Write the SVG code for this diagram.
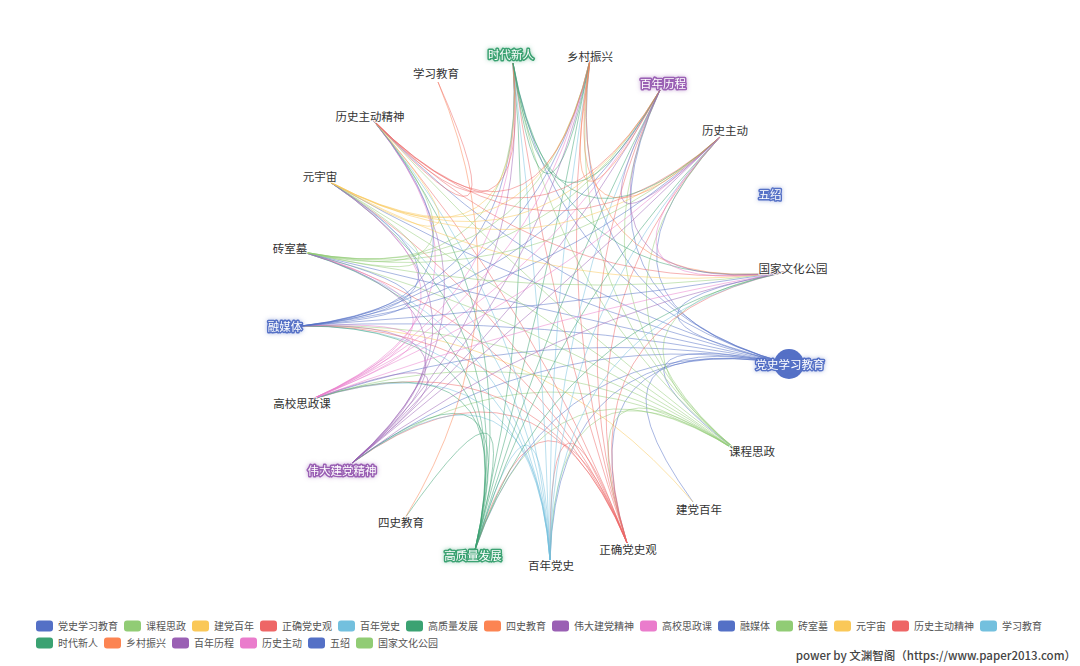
<svg xmlns="http://www.w3.org/2000/svg" width="1080" height="666" viewBox="0 0 1080 666">
<defs>
<style>
text{font-family:"Noto Sans CJK SC","Noto Sans",sans-serif}
#edges path{fill:none;stroke-width:1;stroke-opacity:0.5}
.lb{font-size:11.5px;fill:#333;stroke:#fff;stroke-width:2;stroke-opacity:0.8;paint-order:stroke;text-anchor:middle}
.hl{font-size:11.5px;fill:#fff;stroke-width:3;stroke-linejoin:round;paint-order:stroke;text-anchor:middle}
.lg{font-size:10px;fill:#555}
.wm{font-size:11.5px;fill:#444;text-anchor:end;font-weight:500}
</style>
<filter id="gB" x="-30%" y="-60%" width="160%" height="220%"><feDropShadow dx="0" dy="0" stdDeviation="2.2" flood-color="#5470c6" flood-opacity="0.5"/></filter>
<filter id="gG" x="-30%" y="-60%" width="160%" height="220%"><feDropShadow dx="0" dy="0" stdDeviation="2.2" flood-color="#3ba272" flood-opacity="0.5"/></filter>
<filter id="gP" x="-30%" y="-60%" width="160%" height="220%"><feDropShadow dx="0" dy="0" stdDeviation="2.2" flood-color="#9a60b4" flood-opacity="0.5"/></filter>
</defs>
<rect width="1080" height="666" fill="#fff"/>
<g id="edges">
<g stroke="#5470c6">
<path d="M789 364Q566 321 740 453"/><path d="M789 364Q564 323 693 502"/><path d="M789 364Q560 325 627 543"/><path d="M789 364Q557 326 550 560"/><path d="M789 364Q553 326 475 550"/><path d="M789 364Q547 321 352 463"/><path d="M789 364Q545 318 310 400"/><path d="M789 364Q544 314 301 326"/><path d="M789 364Q544 311 303 252"/><path d="M789 364Q546 307 330 182"/><path d="M789 364Q548 304 373 120"/><path d="M789 364Q555 301 513 63"/><path d="M789 364Q559 301 590 60"/><path d="M789 364Q562 303 660 90"/><path d="M789 364Q565 305 720 137"/><path d="M789 364Q568 312 785 272"/>
</g>
<g stroke="#91cc75">
<path d="M740 453Q558 330 627 543"/><path d="M740 453Q554 331 550 560"/><path d="M740 453Q550 330 475 550"/><path d="M740 453Q544 326 352 463"/><path d="M740 453Q542 323 310 400"/><path d="M740 453Q542 319 301 326"/><path d="M740 453Q542 315 303 252"/><path d="M740 453Q543 312 330 182"/><path d="M740 453Q545 309 373 120"/><path d="M740 453Q552 306 513 63"/><path d="M740 453Q556 306 590 60"/><path d="M740 453Q560 307 660 90"/><path d="M740 453Q563 309 720 137"/><path d="M740 453Q566 316 785 272"/>
</g>
<g stroke="#fac858">
<path d="M693 502Q539 321 301 326"/>
</g>
<g stroke="#ee6666">
<path d="M627 543Q548 335 550 560"/><path d="M627 543Q545 335 475 550"/><path d="M627 543Q539 330 352 463"/><path d="M627 543Q536 327 310 400"/><path d="M627 543Q536 323 301 326"/><path d="M627 543Q536 320 303 252"/><path d="M627 543Q537 316 330 182"/><path d="M627 543Q540 313 373 120"/><path d="M627 543Q547 310 513 63"/><path d="M627 543Q550 310 590 60"/><path d="M627 543Q554 312 660 90"/><path d="M627 543Q557 314 720 137"/><path d="M627 543Q560 321 785 272"/>
</g>
<g stroke="#73c0de">
<path d="M550 560Q541 335 475 550"/><path d="M550 560Q535 331 352 463"/><path d="M550 560Q533 328 310 400"/><path d="M550 560Q532 324 301 326"/><path d="M550 560Q532 321 303 252"/><path d="M550 560Q534 317 330 182"/><path d="M550 560Q536 314 373 120"/><path d="M550 560Q543 311 513 63"/><path d="M550 560Q547 311 590 60"/><path d="M550 560Q550 312 660 90"/><path d="M550 560Q553 315 720 137"/><path d="M550 560Q556 322 785 272"/>
</g>
<g stroke="#3ba272">
<path d="M475 550Q534 333 405 518"/><path d="M475 550Q531 331 352 463"/><path d="M475 550Q529 327 310 400"/><path d="M475 550Q528 324 301 326"/><path d="M475 550Q529 320 303 252"/><path d="M475 550Q530 317 330 182"/><path d="M475 550Q532 313 373 120"/><path d="M475 550Q539 311 513 63"/><path d="M475 550Q543 310 590 60"/><path d="M475 550Q546 312 660 90"/><path d="M475 550Q549 314 720 137"/><path d="M475 550Q553 321 785 272"/>
</g>
<g stroke="#fc8452">
<path d="M405 518Q532 310 438 82"/>
</g>
<g stroke="#9a60b4">
<path d="M352 463Q523 323 310 400"/><path d="M352 463Q522 319 301 326"/><path d="M352 463Q522 316 303 252"/><path d="M352 463Q524 312 330 182"/><path d="M352 463Q526 309 373 120"/><path d="M352 463Q533 306 513 63"/><path d="M352 463Q537 306 590 60"/><path d="M352 463Q540 308 660 90"/><path d="M352 463Q543 310 720 137"/><path d="M352 463Q546 317 785 272"/>
</g>
<g stroke="#ea7ccc">
<path d="M310 400Q520 316 301 326"/><path d="M310 400Q520 313 303 252"/><path d="M310 400Q522 309 330 182"/><path d="M310 400Q524 306 373 120"/><path d="M310 400Q531 303 513 63"/><path d="M310 400Q535 303 590 60"/><path d="M310 400Q538 304 660 90"/><path d="M310 400Q541 307 720 137"/><path d="M310 400Q544 314 785 272"/>
</g>
<g stroke="#5470c6">
<path d="M301 326Q520 309 303 252"/><path d="M301 326Q521 305 330 182"/><path d="M301 326Q523 302 373 120"/><path d="M301 326Q530 299 513 63"/><path d="M301 326Q534 299 590 60"/><path d="M301 326Q538 301 660 90"/><path d="M301 326Q541 303 720 137"/><path d="M301 326Q544 310 785 272"/>
</g>
<g stroke="#91cc75">
<path d="M303 252Q521 302 330 182"/><path d="M303 252Q523 299 373 120"/><path d="M303 252Q530 296 513 63"/><path d="M303 252Q534 296 590 60"/><path d="M303 252Q538 297 660 90"/><path d="M303 252Q541 299 720 137"/><path d="M303 252Q544 306 785 272"/>
</g>
<g stroke="#fac858">
<path d="M330 182Q525 295 373 120"/><path d="M330 182Q532 292 513 63"/><path d="M330 182Q536 292 590 60"/><path d="M330 182Q539 294 660 90"/><path d="M330 182Q542 296 720 137"/><path d="M330 182Q545 303 785 272"/>
</g>
<g stroke="#ee6666">
<path d="M373 120Q530 290 438 82"/><path d="M373 120Q534 289 513 63"/><path d="M373 120Q538 289 590 60"/><path d="M373 120Q541 290 660 90"/><path d="M373 120Q544 293 720 137"/><path d="M373 120Q548 300 785 272"/>
</g>
<g stroke="#3ba272">
<path d="M513 63Q545 286 590 60"/><path d="M513 63Q548 288 660 90"/><path d="M513 63Q551 290 720 137"/><path d="M513 63Q555 297 785 272"/>
</g>
<g stroke="#fc8452">
<path d="M590 60Q552 287 660 90"/><path d="M590 60Q555 290 720 137"/><path d="M590 60Q558 297 785 272"/>
</g>
<g stroke="#9a60b4">
<path d="M660 90Q559 291 720 137"/><path d="M660 90Q562 298 785 272"/>
</g>
<g stroke="#ea7ccc">
<path d="M720 137Q565 300 785 272"/>
</g>
</g>
<g id="nodes">
<g id="n0"><circle cx="789" cy="364" r="15" fill="#5470c6"/><text class="hl" x="790" y="369" stroke="#5470c6" filter="url(#gB)">党史学习教育</text></g>
<g id="n1"><text class="lb" x="752" y="456">课程思政</text></g>
<g id="n2"><text class="lb" x="699" y="514">建党百年</text></g>
<g id="n3"><text class="lb" x="628" y="554">正确党史观</text></g>
<g id="n4"><text class="lb" x="551" y="570">百年党史</text></g>
<g id="n5"><text class="hl" x="473" y="560" stroke="#3ba272" filter="url(#gG)">高质量发展</text></g>
<g id="n6"><text class="lb" x="401" y="527">四史教育</text></g>
<g id="n7"><text class="hl" x="342" y="475" stroke="#9a60b4" filter="url(#gP)">伟大建党精神</text></g>
<g id="n8"><text class="lb" x="302" y="408">高校思政课</text></g>
<g id="n9"><text class="hl" x="285" y="331" stroke="#5470c6" filter="url(#gB)">融媒体</text></g>
<g id="n10"><text class="lb" x="290" y="253">砖室墓</text></g>
<g id="n11"><text class="lb" x="320" y="181">元宇宙</text></g>
<g id="n12"><text class="lb" x="370" y="121">历史主动精神</text></g>
<g id="n13"><text class="lb" x="436" y="78">学习教育</text></g>
<g id="n14"><text class="hl" x="511" y="59" stroke="#3ba272" filter="url(#gG)">时代新人</text></g>
<g id="n15"><text class="lb" x="590" y="61">乡村振兴</text></g>
<g id="n16"><text class="hl" x="663" y="88" stroke="#9a60b4" filter="url(#gP)">百年历程</text></g>
<g id="n17"><text class="lb" x="725" y="135">历史主动</text></g>
<g id="n18"><text class="hl" x="770" y="199" stroke="#5470c6" filter="url(#gB)">五绍</text></g>
<g id="n19"><text class="lb" x="793" y="273">国家文化公园</text></g>
</g>
<g id="legend">
<rect x="36" y="620.5" width="17" height="11" rx="3" fill="#5470c6"/><text class="lg" x="58" y="630">党史学习教育</text>
<rect x="124" y="620.5" width="17" height="11" rx="3" fill="#91cc75"/><text class="lg" x="146" y="630">课程思政</text>
<rect x="192" y="620.5" width="17" height="11" rx="3" fill="#fac858"/><text class="lg" x="214" y="630">建党百年</text>
<rect x="260" y="620.5" width="17" height="11" rx="3" fill="#ee6666"/><text class="lg" x="282" y="630">正确党史观</text>
<rect x="338" y="620.5" width="17" height="11" rx="3" fill="#73c0de"/><text class="lg" x="360" y="630">百年党史</text>
<rect x="406" y="620.5" width="17" height="11" rx="3" fill="#3ba272"/><text class="lg" x="428" y="630">高质量发展</text>
<rect x="484" y="620.5" width="17" height="11" rx="3" fill="#fc8452"/><text class="lg" x="506" y="630">四史教育</text>
<rect x="552" y="620.5" width="17" height="11" rx="3" fill="#9a60b4"/><text class="lg" x="574" y="630">伟大建党精神</text>
<rect x="640" y="620.5" width="17" height="11" rx="3" fill="#ea7ccc"/><text class="lg" x="662" y="630">高校思政课</text>
<rect x="718" y="620.5" width="17" height="11" rx="3" fill="#5470c6"/><text class="lg" x="740" y="630">融媒体</text>
<rect x="776" y="620.5" width="17" height="11" rx="3" fill="#91cc75"/><text class="lg" x="798" y="630">砖室墓</text>
<rect x="834" y="620.5" width="17" height="11" rx="3" fill="#fac858"/><text class="lg" x="856" y="630">元宇宙</text>
<rect x="892" y="620.5" width="17" height="11" rx="3" fill="#ee6666"/><text class="lg" x="914" y="630">历史主动精神</text>
<rect x="980" y="620.5" width="17" height="11" rx="3" fill="#73c0de"/><text class="lg" x="1002" y="630">学习教育</text>
<rect x="36" y="637.5" width="17" height="11" rx="3" fill="#3ba272"/><text class="lg" x="58" y="647">时代新人</text>
<rect x="104" y="637.5" width="17" height="11" rx="3" fill="#fc8452"/><text class="lg" x="126" y="647">乡村振兴</text>
<rect x="172" y="637.5" width="17" height="11" rx="3" fill="#9a60b4"/><text class="lg" x="194" y="647">百年历程</text>
<rect x="240" y="637.5" width="17" height="11" rx="3" fill="#ea7ccc"/><text class="lg" x="262" y="647">历史主动</text>
<rect x="308" y="637.5" width="17" height="11" rx="3" fill="#5470c6"/><text class="lg" x="330" y="647">五绍</text>
<rect x="356" y="637.5" width="17" height="11" rx="3" fill="#91cc75"/><text class="lg" x="378" y="647">国家文化公园</text>
</g>
<text class="wm" x="1076" y="660">power by 文渊智阁（https://www.paper2013.com）</text>
</svg>
